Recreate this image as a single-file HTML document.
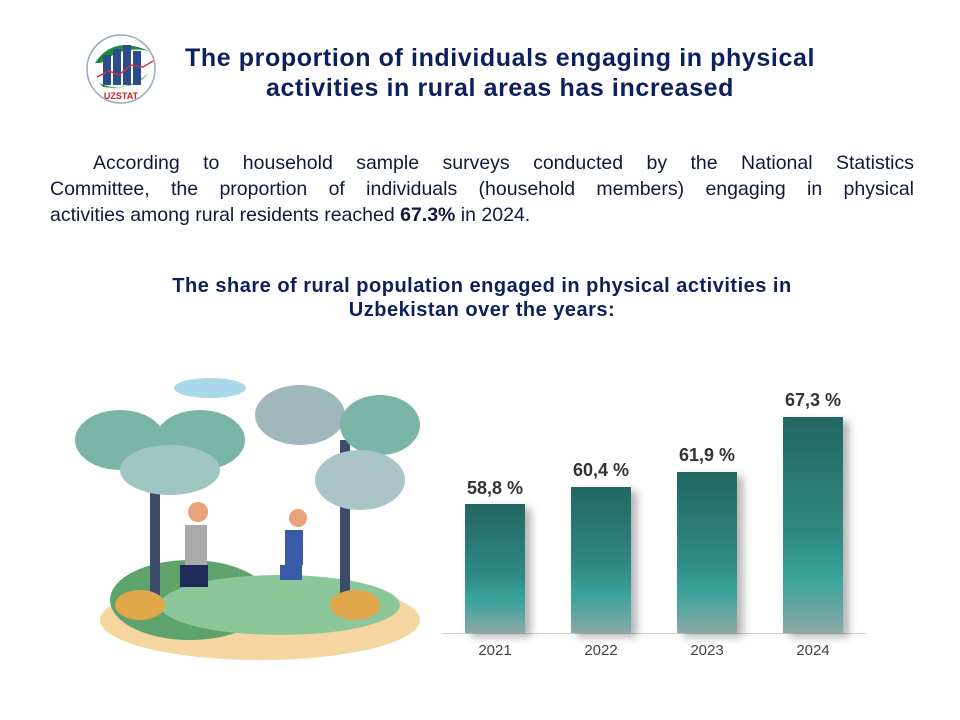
<!DOCTYPE html>
<html><head><meta charset="utf-8"><style>
body{margin:0;width:960px;height:720px;background:#fff;position:relative;overflow:hidden;font-family:"Liberation Sans",Arial,sans-serif}
.t{position:absolute;left:100px;width:800px;text-align:center;font-weight:bold;color:#0d1f5c;font-size:25px;letter-spacing:0.6px;line-height:30px;top:43px}
.p{position:absolute;left:50px;width:864px;top:150px;font-size:19.5px;line-height:26px;color:#10193a}
.p div{text-align:justify;text-align-last:justify;white-space:nowrap}
.p div.l{text-align-last:left}
.st{position:absolute;left:82px;width:800px;top:274px;text-align:center;font-weight:bold;font-size:20px;letter-spacing:0.5px;line-height:24px;color:#0d1f5c}
.bar{position:absolute;width:60px;background:linear-gradient(#236662,#2f8a84 55%,#3aa49c 75%,#8ba8a6);box-shadow:6px 4px 8px rgba(0,0,0,.3)}
.v{position:absolute;width:100px;text-align:center;font-weight:bold;font-size:18px;color:#333}
.y{position:absolute;width:60px;text-align:center;font-size:15px;color:#444;top:642px}
</style></head><body>
<svg style="position:absolute;left:83px;top:33px" width="76" height="72">
<circle cx="38" cy="36" r="34" fill="#fff" stroke="#9ab" stroke-width="1.5"/>
<path d="M12 30 Q30 2 66 18 Q40 12 18 30Z" fill="#1e8a3c"/>
<path d="M16 50 Q40 62 66 40 Q50 58 20 54Z" fill="#1e8a3c"/>
<rect x="20" y="22" width="8" height="30" fill="#2a4c8c"/><rect x="30" y="16" width="8" height="36" fill="#2a4c8c"/><rect x="40" y="12" width="8" height="40" fill="#2a4c8c"/><rect x="50" y="18" width="8" height="34" fill="#2a4c8c"/>
<polyline points="14,44 26,38 36,42 48,32 60,34 70,28" fill="none" stroke="#c33" stroke-width="1.5"/>
<text x="38" y="66" font-size="9" font-weight="bold" text-anchor="middle" fill="#c22" font-family="Liberation Sans">UZSTAT</text>
</svg>
<div class="t">The proportion of individuals engaging in physical<br>activities in rural areas has increased</div>
<div class="p"><div style="padding-left:43px">According to household sample surveys conducted by the National Statistics</div><div>Committee, the proportion of individuals (household members) engaging in physical</div><div class="l">activities among rural residents reached <b>67.3%</b> in 2024.</div></div>
<div class="st">The share of rural population engaged in physical activities in<br>Uzbekistan over the years:</div>
<svg style="position:absolute;left:70px;top:370px" width="350" height="300">
<ellipse cx="140" cy="18" rx="36" ry="10" fill="#a8d8ea"/>
<ellipse cx="190" cy="250" rx="160" ry="40" fill="#f5d6a0"/>
<ellipse cx="120" cy="230" rx="80" ry="40" fill="#5fa36c"/>
<ellipse cx="210" cy="235" rx="120" ry="30" fill="#8cc79a"/>
<rect x="80" y="70" width="10" height="170" fill="#3d4b6a"/><rect x="270" y="70" width="10" height="170" fill="#3d4b6a"/>
<ellipse cx="50" cy="70" rx="45" ry="30" fill="#7bb5a7"/><ellipse cx="130" cy="70" rx="45" ry="30" fill="#7bb5a7"/><ellipse cx="100" cy="100" rx="50" ry="25" fill="#9fc6c0"/>
<ellipse cx="230" cy="45" rx="45" ry="30" fill="#9fb8bd"/><ellipse cx="310" cy="55" rx="40" ry="30" fill="#7bb5a7"/><ellipse cx="290" cy="110" rx="45" ry="30" fill="#a9c5c8"/>
<ellipse cx="70" cy="235" rx="25" ry="15" fill="#e0a84b"/><ellipse cx="285" cy="235" rx="25" ry="15" fill="#e0a84b"/>
<circle cx="128" cy="142" r="10" fill="#e8a27a"/><rect x="115" y="155" width="22" height="40" fill="#aaa"/><rect x="110" y="195" width="28" height="22" fill="#1f2a5a"/>
<circle cx="228" cy="148" r="9" fill="#e8a27a"/><rect x="215" y="160" width="18" height="35" fill="#3a5aa8"/><rect x="210" y="195" width="22" height="15" fill="#3a5aa8"/>
</svg>
<div style="position:absolute;left:442px;top:633px;width:424px;height:1px;background:#ccc"></div>
<div class="bar" style="left:465px;top:504px;height:129px"></div>
<div class="bar" style="left:571px;top:487px;height:146px"></div>
<div class="bar" style="left:677px;top:472px;height:161px"></div>
<div class="bar" style="left:783px;top:417px;height:216px"></div>
<div class="v" style="left:445px;top:478px">58,8 %</div>
<div class="v" style="left:551px;top:460px">60,4 %</div>
<div class="v" style="left:657px;top:445px">61,9 %</div>
<div class="v" style="left:763px;top:390px">67,3 %</div>
<div class="y" style="left:465px">2021</div><div class="y" style="left:571px">2022</div><div class="y" style="left:677px">2023</div><div class="y" style="left:783px">2024</div>
</body></html>
